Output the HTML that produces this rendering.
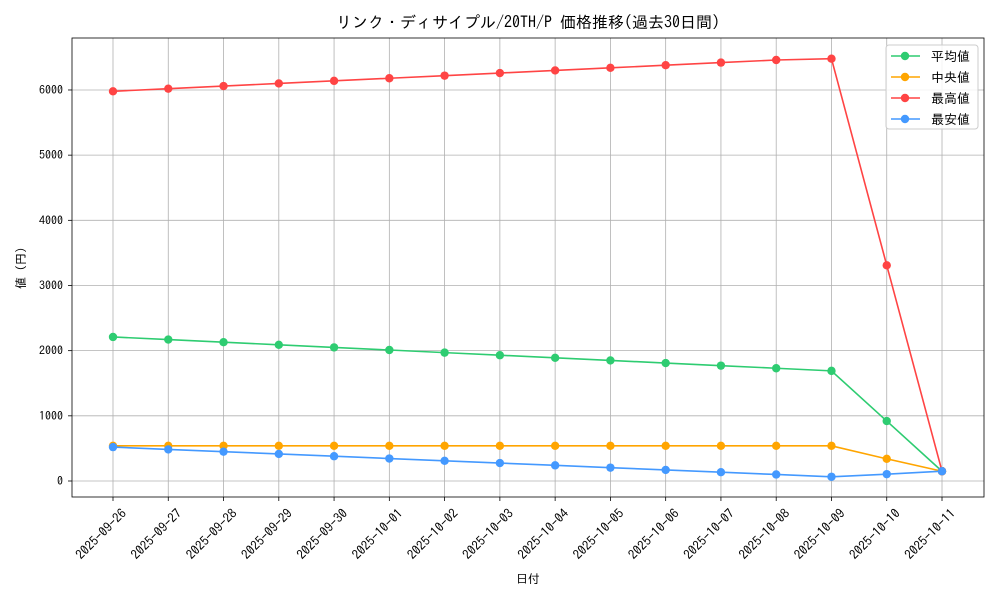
<!DOCTYPE html>
<html><head><meta charset="utf-8"><style>
body{margin:0;background:#fff}
svg text{font-family:"IPAGothic","Liberation Sans","Noto Sans CJK JP",sans-serif;fill:#000}
</style></head><body>
<svg id="s" width="1000" height="600" xmlns="http://www.w3.org/2000/svg"></svg>
<script>
const s=document.getElementById('s');
let h='';
const X=i=>113+i*55.267, Y=v=>481-v*0.06517;
const dates=['2025-09-26','2025-09-27','2025-09-28','2025-09-29','2025-09-30','2025-10-01','2025-10-02','2025-10-03','2025-10-04','2025-10-05','2025-10-06','2025-10-07','2025-10-08','2025-10-09','2025-10-10','2025-10-11'];
dates.forEach((d,i)=>{h+=`<line x1="${X(i)}" y1="38" x2="${X(i)}" y2="497" stroke="#b0b0b0" stroke-width="0.8"/>`;
h+=`<line x1="${X(i)}" y1="497" x2="${X(i)}" y2="501" stroke="#000" stroke-width="0.8"/>`;
h+=`<text transform="translate(${X(i)+8},508) rotate(-45)" text-anchor="end" dominant-baseline="hanging" font-size="13">${d}</text>`;});
for(let v=0;v<=6000;v+=1000){const y=Y(v);h+=`<line x1="72" y1="${y}" x2="984" y2="${y}" stroke="#b0b0b0" stroke-width="0.8"/>`;
h+=`<line x1="68" y1="${y}" x2="72" y2="${y}" stroke="#000" stroke-width="0.8"/>`;
h+=`<text x="63" y="${y+4}" text-anchor="end" font-size="12">${v}</text>`;}
const series=[
['#2ecc71',[2210,2170,2130,2090,2050,2010,1970,1930,1890,1850,1810,1770,1730,1690,920,150]],
['#ffa500',[540,540,540,540,540,540,540,540,540,540,540,540,540,540,340,150]],
['#ff4444',[5980,6020,6060,6100,6140,6180,6220,6260,6300,6340,6380,6420,6460,6480,3310,150]],
['#4499ff',[520,485,450,415,380,345,310,275,240,205,170,135,100,65,105,150]]];
series.forEach(([c,d])=>{h+=`<polyline fill="none" stroke="${c}" stroke-width="1.6" points="${d.map((v,i)=>X(i)+','+Y(v)).join(' ')}"/>`;
d.forEach((v,i)=>h+=`<circle cx="${X(i)}" cy="${Y(v)}" r="4.2" fill="${c}"/>`);});
h+=`<rect x="72" y="38" width="912" height="459" fill="none" stroke="#000" stroke-width="0.8"/>`;
h+=`<text x="528" y="28" text-anchor="middle" font-size="16">リンク・ディサイプル/20TH/P 価格推移(過去30日間)</text>`;
h+=`<text x="528" y="583" text-anchor="middle" font-size="12">日付</text>`;
h+=`<text transform="translate(25,268) rotate(-90)" text-anchor="middle" font-size="12">値 (円)</text>`;
h+=`<rect x="886" y="45" width="92" height="84" rx="3" fill="#fff" fill-opacity="0.85" stroke="#ccc"/>`;
const names=['平均値','中央値','最高値','最安値'];
series.forEach(([c],i)=>{const y=56+i*21;h+=`<line x1="891" y1="${y}" x2="920" y2="${y}" stroke="${c}" stroke-width="1.6"/><circle cx="905" cy="${y}" r="4.2" fill="${c}"/><text x="931" y="${y+5}" font-size="13">${names[i]}</text>`;});
s.innerHTML=h;
</script>
</body></html>
